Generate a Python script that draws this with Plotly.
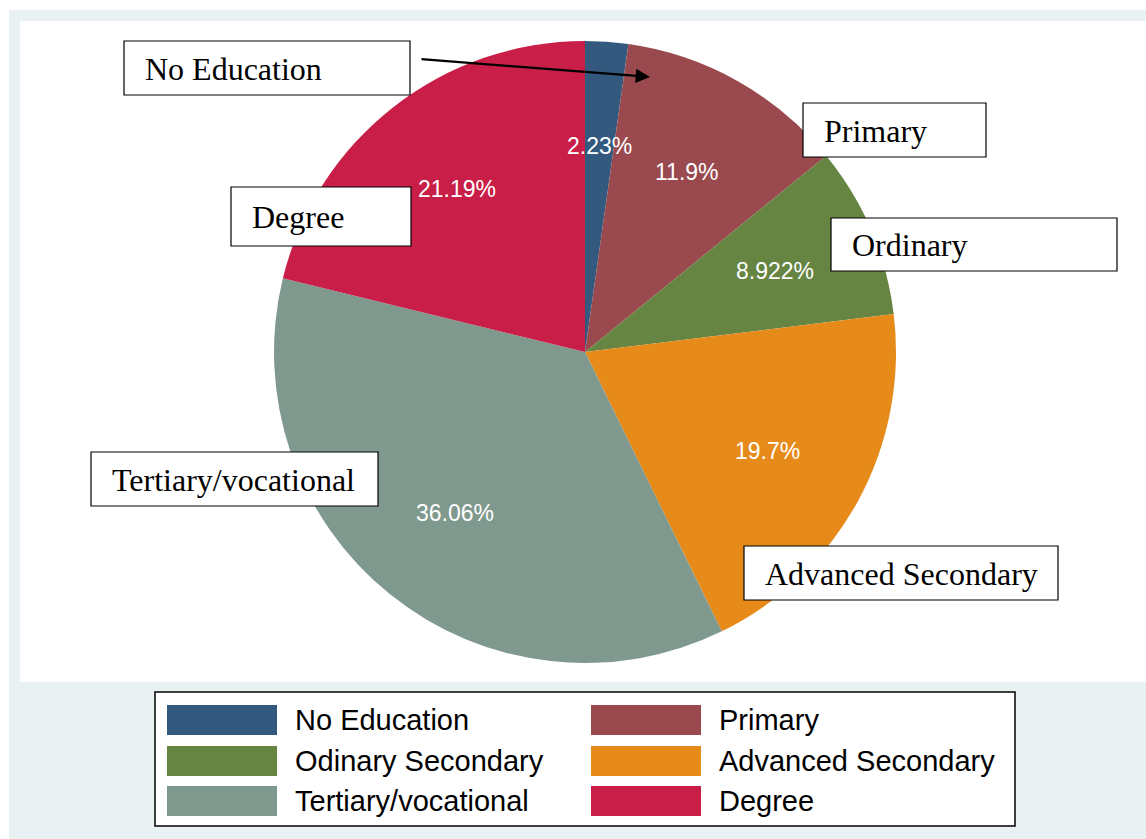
import math
import plotly.graph_objects as go

OFF = 0
W, H = 1146, 839

# ---- data ----
categories = ["No Education", "Primary", "Ordinary", "Advanced Secondary",
              "Tertiary/vocational", "Degree"]
legend_names = ["No Education", "Primary", "Odinary Secondary", "Advanced Secondary",
                "Tertiary/vocational", "Degree"]
values = [2.23, 11.9, 8.922, 19.7, 36.06, 21.19]
colors = ["#335A7E", "#9A4A4F", "#668442", "#E68A1A", "#7F998E", "#C81E47"]

# ---- layout helpers (screen pixel -> paper) ----
def px(x):
    return (x - OFF) / W

def py(y):
    return 1 - (y - OFF) / H

cx, cy, R = 585, 352, 311

fig = go.Figure()
fig.add_trace(go.Pie(
    labels=categories, values=values, sort=False, direction="clockwise",
    rotation=0, marker=dict(colors=colors, line=dict(width=0)),
    textinfo="none", hoverinfo="label+percent", showlegend=False,
    domain=dict(x=[px(cx - R), px(cx + R)], y=[py(cy + R), py(cy - R)]),
))

shapes = [
    dict(type="rect", xref="paper", yref="paper", x0=px(9), x1=1.0, y0=0.0, y1=py(10),
         fillcolor="#EAF1F3", line=dict(width=0), layer="below"),
    dict(type="rect", xref="paper", yref="paper", x0=px(20), x1=1.0, y0=py(682), y1=py(21),
         fillcolor="white", line=dict(width=0), layer="below"),
]
annotations = []

# percentage labels at 2/3 radius along slice mid-angles
total = sum(values)
cum = 0.0
for v in values:
    mid = (cum + v / 2) / total * 2 * math.pi
    cum += v
    r = 207
    x = cx + r * math.sin(mid)
    y = cy - r * math.cos(mid)
    annotations.append(dict(x=px(x), y=py(y), xref="paper", yref="paper",
                            xanchor="center", yanchor="middle",
                            text=f"{v:g}%", showarrow=False,
                            font=dict(family="Liberation Sans, Arial", size=23, color="white")))

# callout boxes
callouts = [
    ("No Education", 124, 410, 41, 95),
    ("Primary", 803, 986, 103, 157),
    ("Ordinary", 831, 1117, 218, 271),
    ("Degree", 231, 411, 187, 246),
    ("Tertiary/vocational", 91, 378, 452, 506),
    ("Advanced Secondary", 744, 1058, 546, 600),
]
for text, x0, x1, y0, y1 in callouts:
    shapes.append(dict(type="rect", xref="paper", yref="paper", x0=px(x0), x1=px(x1),
                       y0=py(y1), y1=py(y0), fillcolor="white",
                       line=dict(color="black", width=1.2), layer="above"))
    annotations.append(dict(x=px(x0 + 19), y=py((y0 + y1) / 2 + 1), xref="paper", yref="paper",
                            xanchor="left", yanchor="middle", text=text, showarrow=False,
                            font=dict(family="Liberation Serif, Times New Roman", size=32, color="black")))

# arrow
annotations.append(dict(x=px(650), y=py(77), xref="paper", yref="paper", ax=-230, ay=-18,
                        showarrow=True, arrowhead=2, arrowsize=1.3, arrowwidth=2.2,
                        arrowcolor="black", text=""))

# custom legend
shapes.append(dict(type="rect", xref="paper", yref="paper", x0=px(155), x1=px(1015),
                   y0=py(826), y1=py(692), fillcolor="white",
                   line=dict(color="black", width=1.5), layer="above"))
row_y = [720, 761, 801]
col_x = [167, 591]
for i, (name, col) in enumerate(zip(legend_names, colors)):
    r, c = divmod(i, 2)
    sx = col_x[c]
    yc = row_y[r]
    shapes.append(dict(type="rect", xref="paper", yref="paper", x0=px(sx), x1=px(sx + 110),
                       y0=py(yc + 15), y1=py(yc - 15), fillcolor=col,
                       line=dict(width=0), layer="above"))
    annotations.append(dict(x=px(sx + 126), y=py(yc), xref="paper", yref="paper",
                            xanchor="left", yanchor="middle", text=name, showarrow=False,
                            font=dict(family="Liberation Sans, Arial", size=29, color="black")))

fig.update_layout(
    width=W, height=H, margin=dict(l=0, r=0, t=0, b=0),
    paper_bgcolor="white", plot_bgcolor="white",
    shapes=shapes, annotations=annotations, showlegend=False,
)
fig.write_html("out.html", config={"displayModeBar": False},
               post_script="document.body.style.margin='0';document.body.style.overflow='hidden';")
